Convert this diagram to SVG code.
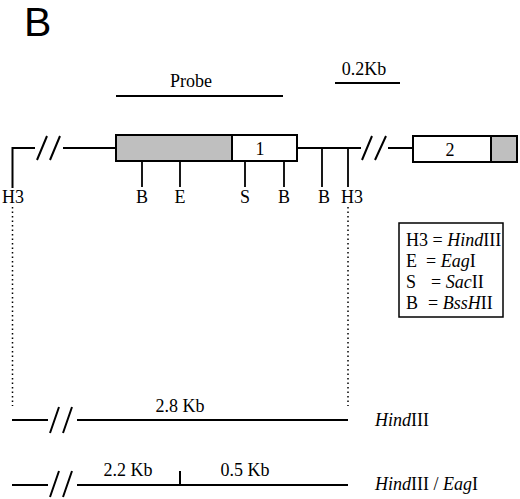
<svg xmlns="http://www.w3.org/2000/svg" width="520" height="499" viewBox="0 0 520 499">
<style>
.ln{stroke:#000;stroke-width:2;fill:none}
.tk{stroke:#000;stroke-width:1.8;fill:none}
.bx{stroke:#000;stroke-width:2}
.t{font-family:"Liberation Serif","Times New Roman",serif;font-size:18px;fill:#000}
.tl{font-family:"Liberation Serif","Times New Roman",serif;font-size:18px;fill:#000}
.c{text-anchor:middle}
.i{font-style:italic}
.dot{stroke:#000;stroke-width:1.5;stroke-dasharray:1.5 3;fill:none}
</style>
<rect width="520" height="499" fill="#fff"/>
<g id="panel-label"><text x="24" y="36" font-family="Liberation Sans, Arial, sans-serif" font-size="41" fill="#000">B</text></g>
<g id="probe">
<text class="tl c" x="191" y="87">Probe</text>
<line class="ln" x1="116" y1="96" x2="283" y2="96"/>
</g>
<g id="scale">
<text class="tl c" x="364" y="75">0.2Kb</text>
<line class="ln" x1="335" y1="83" x2="400" y2="83"/>
</g>
<g id="genomic-map">
<path class="ln" d="M12.5 188 V148 H35 M63 148 H116 M297 148 H361 M388 148 H413"/>
<path class="ln" d="M37 160 L47 136 M50 160 L60 136 M362 160 L372 136 M375 160 L386 136"/>
<rect class="bx" x="116" y="135" width="116" height="26" fill="#bfbfbf"/>
<rect class="bx" x="232" y="135" width="65" height="26" fill="#fff"/>
<text class="tl c" x="260" y="155">1</text>
<rect class="bx" x="413" y="136" width="78" height="26" fill="#fff"/>
<rect class="bx" x="491" y="136" width="26" height="26" fill="#bfbfbf"/>
<text class="tl c" x="450" y="156">2</text>
<path class="tk" d="M142 161 V187 M180 161 V187 M245 161 V187 M284 161 V187 M322 148 V187 M348 148 V187"/>
<text class="t" x="2" y="203">H3</text>
<text class="t c" x="142" y="203">B</text>
<text class="t c" x="180" y="203">E</text>
<text class="t c" x="245" y="203">S</text>
<text class="t c" x="284" y="203">B</text>
<text class="t c" x="324" y="203">B</text>
<text class="t c" x="352" y="203">H3</text>
</g>
<g id="legend">
<rect x="399" y="223" width="104" height="94" fill="#fff" stroke="#000" stroke-width="1.5"/>
<text class="t" y="246"><tspan x="406">H3 = </tspan><tspan class="i">Hind</tspan>III</text>
<text class="t" y="267"><tspan x="406">E</tspan><tspan x="426">= </tspan><tspan class="i">Eag</tspan>I</text>
<text class="t" y="288"><tspan x="406">S</tspan><tspan x="431">= </tspan><tspan class="i">Sac</tspan>II</text>
<text class="t" y="309"><tspan x="406">B</tspan><tspan x="428">= </tspan><tspan class="i">BssH</tspan>II</text>
</g>
<g id="connectors">
<line class="dot" x1="12.5" y1="207" x2="12.5" y2="406"/>
<line class="dot" x1="348" y1="207" x2="348" y2="406"/>
</g>
<g id="hindIII-fragment">
<path class="ln" d="M12 420 H48 M77 420 H348"/>
<path class="ln" d="M50 433 L59 407 M63 433 L72 407"/>
<text class="tl c" x="180" y="412">2.8 Kb</text>
<text class="tl" x="375" y="426"><tspan class="i">Hind</tspan>III</text>
</g>
<g id="hindIII-eagI-fragments">
<path class="ln" d="M12 485 H48 M77 485 H348 M180 471 V485"/>
<path class="ln" d="M50 497 L59 471 M63 497 L72 471"/>
<text class="tl c" x="128" y="476">2.2 Kb</text>
<text class="tl c" x="245" y="476">0.5 Kb</text>
<text class="tl" x="375" y="490"><tspan class="i">Hind</tspan>III / <tspan class="i">Eag</tspan>I</text>
</g>
</svg>
